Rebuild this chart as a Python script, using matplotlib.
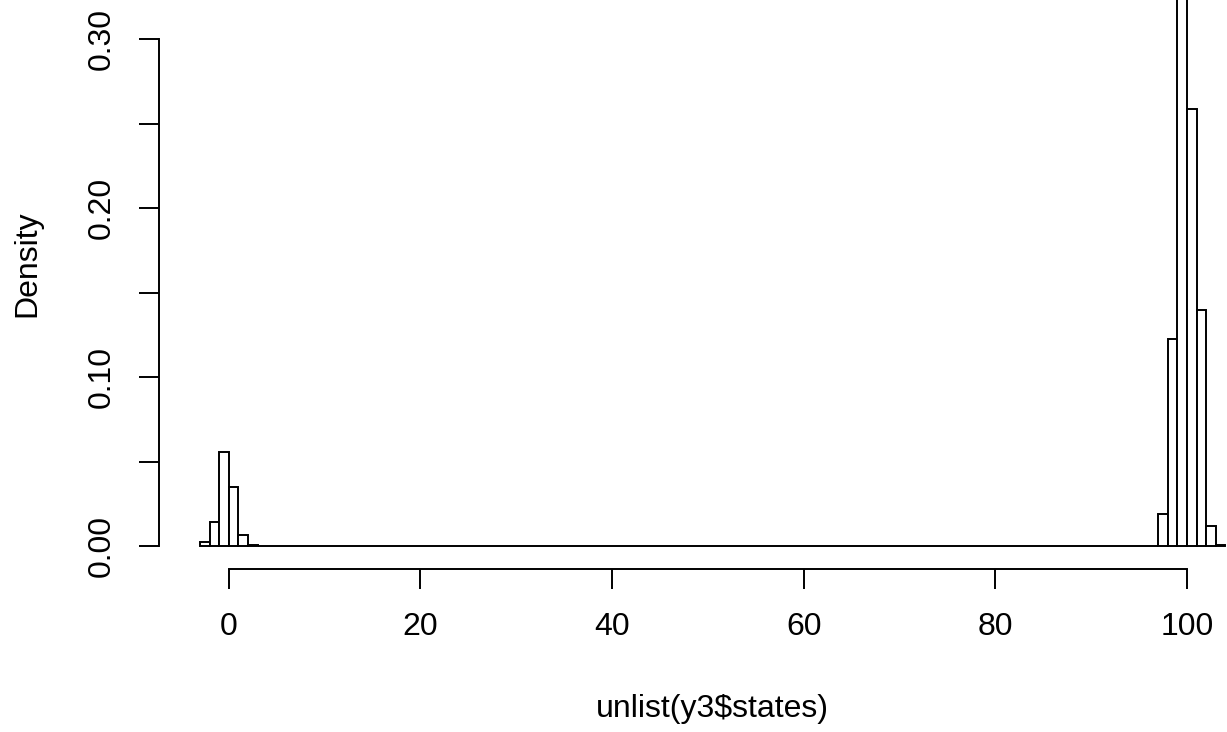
import matplotlib
matplotlib.use("Agg")
import matplotlib.pyplot as plt
import numpy as np

# histogram of unlist(y3$states), bin width 1, density scale
bin_edges = list(range(-3, 105))
left_density = [0.0026, 0.0144, 0.0554, 0.0351, 0.0065, 0.0007]      # bins -3..3
right_density = [0.0190, 0.1225, 0.3320, 0.2586, 0.1396, 0.0120, 0.0006]  # bins 97..104
density = left_density + [0.0] * (97 - 3) + right_density

x_ticks = [0, 20, 40, 60, 80, 100]
y_ticks = [0.00, 0.05, 0.10, 0.15, 0.20, 0.25, 0.30]
y_labels = ["0.00", "", "0.10", "", "0.20", "", "0.30"]

plt.rcParams["font.family"] = ["Liberation Sans", "DejaVu Sans"]

W, H = 1227, 732
fig = plt.figure(figsize=(W / 100, H / 100), dpi=100)
ax = fig.add_axes([159 / W, (H - 568.5) / H, (W - 159) / W, 568.5 / H])

edges = np.array(bin_edges, dtype=float)
ax.bar(edges[:-1], density, width=np.diff(edges), align="edge",
       facecolor="white", edgecolor="black", linewidth=1.4, clip_on=True)

ax.set_xlim(-7.28, 104.17)
ax.set_ylim(-0.0133, 0.3231)

for s in ["top", "right"]:
    ax.spines[s].set_visible(False)
ax.spines["bottom"].set_bounds(0, 100)
ax.spines["left"].set_bounds(0, 0.30)
for s in ["bottom", "left"]:
    ax.spines[s].set_linewidth(1.4)

ax.set_xticks(x_ticks)
ax.set_xticklabels([str(t) for t in x_ticks])
ax.set_yticks(y_ticks)
ax.set_yticklabels(y_labels, rotation=90, va="center")
ax.tick_params(axis="both", direction="out", length=14.4, width=1.4,
               labelsize=23)
ax.tick_params(axis="x", pad=17)
ax.tick_params(axis="y", pad=16)

# R centres the labels on the full plot region, which runs past the crop
fig.text(712 / W, 1 - 709 / H, "unlist(y3$states)", ha="center", va="center",
         fontsize=23)
fig.text(27 / W, 1 - 264 / H, "Density", ha="center", va="center",
         rotation=90, fontsize=23)

fig.savefig("out.png", dpi=100)
